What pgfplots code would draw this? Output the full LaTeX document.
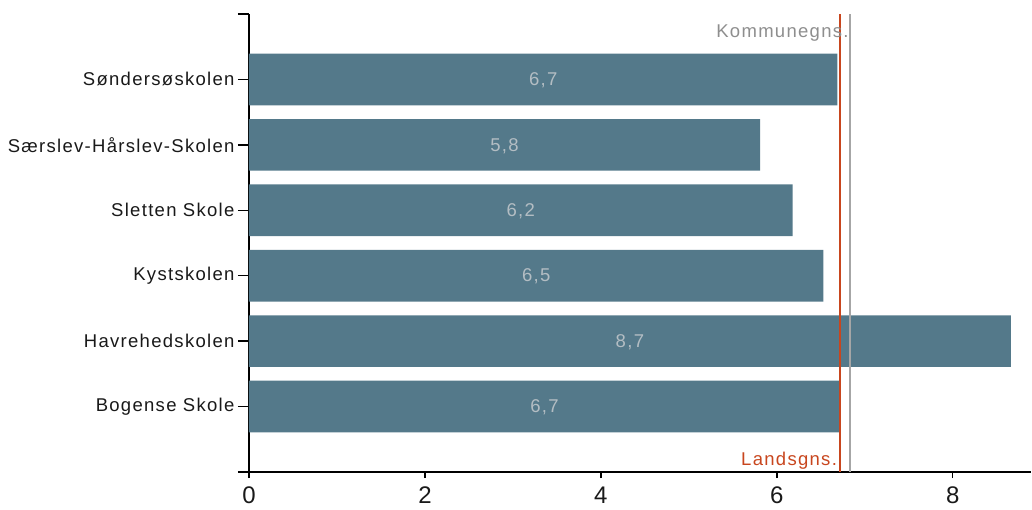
\documentclass[border=0pt]{standalone}
\usepackage{pgfplots}
\pgfplotsset{compat=1.18}
\usepackage{pgfplotstable}
\usepackage{fontspec}
\setmainfont{Liberation Sans}
\newfontfamily\spaced[LetterSpace=7]{Liberation Sans}

\definecolor{barcol}{HTML}{54798A}
\definecolor{barlbl}{HTML}{B3BDC3}
\definecolor{landcol}{HTML}{C8461E}
\definecolor{kommline}{HTML}{A6A6A6}
\definecolor{kommtxt}{HTML}{8E8E8E}

% bar ends, school 0 at the bottom
\pgfplotstableread{
pos val
0 6.72
1 8.66
2 6.53
3 6.18
4 5.81
5 6.69
}\schools

\begin{document}
\begin{tikzpicture}
\begin{axis}[
    name=ax,
    scale only axis,
    width=782pt, height=458pt,
    xmin=0, xmax=8.89,
    ymin=-1, ymax=6,
    clip=false,
    axis x line=bottom, axis y line=left,
    axis line style={-, line width=1.5pt, black},
    xtick={0,2,4,6,8},
    ytick={-1,0,1,2,3,4,5,6},
    yticklabels={,Bogense Skole,Havrehedskolen,Kystskolen,Sletten Skole,S{\ae}rslev-H{\aa}rslev-Skolen,S{\o}nders{\o}skolen,},
    tick align=outside,
    major tick length=11pt,
    x tick style={line width=1.5pt, black, /pgfplots/major tick length=6pt},
    y tick style={line width=1.5pt, black},
    yticklabel style={font=\spaced\fontsize{18.5}{21}\selectfont, text=black!90},
    xticklabel style={font=\fontsize{24}{28}\selectfont, text=black!90},
    /pgf/number format/assume math mode=true,
]
\addplot[xbar, fill=barcol, draw=none, bar width=0.79] table[x=val, y=pos]{\schools};
\addplot[draw=none, nodes near coords={\pgfmathprintnumber[fixed,fixed zerofill,precision=1,use comma]{\pgfplotspointmeta}},
    point meta=\thisrow{val},
    nodes near coords style={anchor=center, yshift=-1pt, font=\spaced\fontsize{18.5}{21}\selectfont, text=barlbl}]
    table[x expr=\thisrow{val}/2, y=pos]{\schools};
\addplot[landcol, line width=1.5pt] coordinates {(6.72,-1) (6.72,6)};
\addplot[kommline, line width=2pt] coordinates {(6.83,-1) (6.83,6)};
\node[anchor=base east, text=kommtxt, font=\spaced\fontsize{18.5}{21}\selectfont, inner sep=0pt]
    at ([xshift=-1pt, yshift=-23pt]axis cs:6.83,6) {Kommunegns.};
\node[anchor=base east, text=landcol, font=\spaced\fontsize{18.5}{21}\selectfont, inner sep=0pt]
    at ([xshift=-3pt, yshift=7pt]axis cs:6.72,-1) {Landsgns.};
\end{axis}
\path (ax.south west) ++(-249pt,-37pt) rectangle ++(1032pt,509pt);
\end{tikzpicture}
\end{document}
